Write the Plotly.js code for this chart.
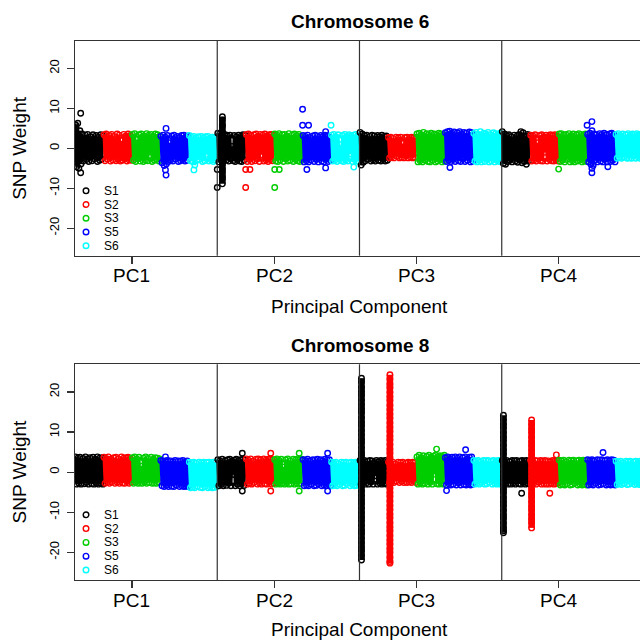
<!DOCTYPE html>
<html>
<head>
<meta charset="utf-8">
<script src="https://cdn.plot.ly/plotly-3.0.1.min.js"></script>
<style>html,body{margin:0;padding:0;background:#fff;}#chart{width:640px;height:641px;}</style>
</head>
<body>
<div id="chart"></div>
<script>
// ---------- categories ----------
const SAMPLES = ['S1', 'S2', 'S3', 'S5', 'S6'];
const PCS = ['PC1', 'PC2', 'PC3', 'PC4'];
const COLORS = ['#000000', '#FF0000', '#00CD00', '#0000FF', '#00FFFF'];
const CHROMS = ['Chromosome 6', 'Chromosome 8'];

// ---------- Chromosome 6: SNP weights in SNP order, per sample, [PC1, PC2, PC3, PC4] ----------
const chr6_S1 = [
  [5.9,-4.6,6.3,-5.0,4.4,-3.9,3.6,-3.2,1.1,3.3,-2.8,3.5,-3.3,0.4,2.9,-3.1,3.4,-2.6,-0.7,3.2,-3.3,2.8,-3.0,3.4,-2.7,3.1],
  [3.8,-3.4,3.6,-3.0,3.2,-3.3,1.0,3.4,-2.9,3.1,-3.2,3.3,-2.6,0.5,-3.1,3.2,-3.3,2.9,-2.8,3.3,-3.2,3.0,-3.3,3.4,-2.9,3.2],
  [4.0,-4.2,3.6,-3.5,3.2,-3.1,3.3,-2.7,0.6,3.0,-3.2,3.3,-2.9,3.1,-3.2,-0.8,3.2,-3.0,2.9,-3.2,3.3,-2.8,3.0,-3.2,3.1,-3.0],
  [4.2,-3.8,3.6,-4.0,3.2,-3.3,3.4,-3.0,2.9,-3.4,0.7,3.3,-3.2,3.0,-3.5,3.4,-2.9,4.2,-3.6,3.9,-3.3,3.1,-4.0,3.5,-3.2,3.3]
];
const chr6_S2 = [
  [3.4,-3.1,3.6,-2.7,0.8,3.2,-3.2,3.5,-2.9,3.0,-1.2,-3.1,3.6,-2.8,3.3,-3.2,1.9,-3.0,3.5,-2.6,3.1,-3.2,3.6,-2.9,3.2,-3.0],
  [3.5,-3.3,3.6,-2.8,3.2,-3.3,0.9,3.4,-3.1,3.6,-2.7,3.0,-3.3,3.5,-1.6,3.3,-3.2,3.6,-2.9,3.1,-3.3,3.4,-2.8,3.5,-3.1,3.3],
  [2.7,-2.4,2.8,-2.2,2.5,-2.4,0.5,2.8,-2.0,2.6,-2.4,2.8,-2.3,1.2,-2.4,2.7,-1.9,2.8,-2.4,2.5,-2.2,2.8,-2.4,2.6,-2.3,2.7],
  [3.3,-3.2,3.1,-2.9,3.4,-3.2,1.4,-2.7,3.2,-3.1,3.4,-3.2,2.9,-1.0,3.3,-3.2,3.0,-2.8,3.4,-3.1,3.2,-3.2,3.4,-2.9,3.1,-3.2]
];
const chr6_S3 = [
  [3.5,-3.0,3.7,-3.3,2.2,-2.6,3.4,-3.2,3.6,0.3,-3.3,3.1,-2.9,3.7,-3.1,3.3,-1.8,3.5,-3.3,2.9,-3.0,3.6,-2.8,3.4,-3.2,3.0],
  [3.6,-3.2,3.3,-3.3,3.7,-2.9,1.3,3.4,-3.3,3.5,-2.6,3.1,-3.2,3.7,-3.0,0.4,3.3,-3.3,3.6,-2.8,3.2,-3.1,3.5,-3.3,3.0,-2.9],
  [3.6,-3.4,3.8,-3.1,3.4,-3.4,4.0,-2.9,1.0,3.7,-3.3,3.5,-3.4,3.8,-3.0,-0.6,3.6,-3.4,3.3,-3.2,3.8,-2.8,3.6,-3.4,3.4,-3.1],
  [3.6,-3.3,3.7,-3.0,3.3,-3.4,3.5,-2.8,0.9,3.7,-3.4,3.2,-3.1,3.6,-3.4,-0.5,3.4,-3.2,3.7,-2.9,3.5,-3.4,3.3,-3.1,3.6,-3.3]
];
const chr6_S5 = [
  [3.0,-3.6,3.3,-4.3,2.8,-3.9,3.2,-3.3,1.4,-2.9,3.1,-3.2,3.3,-2.7,0.2,3.0,-3.3,2.7,-3.1,3.2,-2.8,3.3,-3.2,2.9,-3.0,3.1],
  [3.2,-3.4,3.0,-3.1,3.3,-3.4,2.7,-2.9,0.8,3.1,-3.3,3.3,-2.8,3.0,-3.4,-1.1,3.2,-3.2,2.9,-3.4,3.3,-2.7,3.1,-3.3,2.8,-3.0],
  [3.9,-3.3,4.2,-3.0,4.3,-3.3,3.8,-2.8,4.1,-3.3,1.5,3.9,-3.1,4.2,-3.3,3.7,-2.6,4.0,-3.3,3.8,-3.0,-0.9,4.1,-3.4,3.9,-3.2],
  [3.5,-3.4,3.8,-4.0,4.4,-4.3,3.6,-3.0,3.3,-3.4,1.2,3.7,-3.2,3.5,-3.4,3.8,-2.7,3.4,-3.4,0.1,3.6,-3.3,3.8,-3.0,3.5,-3.4]
];
const chr6_S6 = [
  [3.2,-3.1,2.8,-3.3,3.0,-4.2,2.6,-3.0,2.9,-2.8,0.6,3.0,-3.3,2.7,-3.1,2.9,-1.5,3.0,-3.2,2.5,-2.9,2.8,-3.3,2.6,-3.0,2.9],
  [3.3,-3.2,3.5,-3.0,2.9,-3.3,3.4,-2.7,0.9,-3.1,3.2,-3.3,3.5,-2.9,3.0,-3.2,3.4,-1.4,3.1,-3.3,3.3,-2.8,3.5,-3.2,3.0,-3.3],
  [3.7,-3.2,4.0,-3.4,3.5,-3.0,4.2,-3.4,0.7,3.8,-3.3,3.6,-2.8,4.0,-3.4,3.4,-3.1,-1.3,3.9,-3.4,3.7,-3.0,3.5,-3.3,3.8,-3.2],
  [3.5,-2.5,3.7,-2.3,3.2,-2.5,3.6,-2.1,0.8,3.4,-2.5,3.7,-2.4,3.3,-2.5,3.6,-1.7,3.5,-2.5,3.7,-2.2,3.4,-2.5,3.6,-2.4,3.5]
];
// dense high-weight region (S1, PC2) on chromosome 6
const chr6_region_S1_PC2 = [7.9,7.1,6.0,5.4,4.3,3.6,2.2,1.4,0.1,-1.0,-1.9,-3.2,-4.0,-5.1,-5.9,-7.0,-7.7,-8.9];
// isolated SNPs on chromosome 6 (pos = place within the sample's block of SNPs)
const chr6_out_sample = ['S1','S1','S5','S5','S5','S6','S1','S1','S2','S2','S2','S3','S3','S3','S5','S5','S5','S5','S5','S5','S6','S6','S5','S3','S5','S5','S5','S5','S5'];
const chr6_out_pc     = ['PC1','PC1','PC1','PC1','PC1','PC1','PC2','PC2','PC2','PC2','PC2','PC2','PC2','PC2','PC2','PC2','PC2','PC2','PC2','PC2','PC2','PC2','PC3','PC4','PC4','PC4','PC4','PC4','PC4'];
const chr6_out_pos    = [0.20,0.20,0.20,0.18,0.20,0.18,0.00,0.00,0.00,0.00,0.15,0.02,0.02,0.18,0.00,0.00,0.21,0.15,0.81,0.81,0.00,0.80,0.18,0.00,0.17,0.00,0.17,0.17,0.73];
const chr6_out_y      = [8.8,-6.1,5.0,-5.4,-6.7,-5.4,-5.3,-9.8,-5.3,-9.8,-5.3,-5.3,-9.8,-5.3,9.8,5.8,5.8,-5.3,-4.9,4.2,5.8,-4.7,-4.8,-5.2,6.7,5.8,-6.1,-5.0,-4.6];

// ---------- Chromosome 8 ----------
const chr8_S1 = [
  [3.8,-3.0,3.5,-2.8,3.7,-3.0,1.2,3.4,-2.9,3.8,-2.6,3.3,-3.0,3.6,-0.4,-2.9,3.7,-3.0,3.2,-2.7,3.8,-3.0,3.5,-2.8,3.6,-3.0],
  [3.1,-3.4,2.8,-3.1,3.2,-3.4,1.0,2.9,-3.3,3.1,-2.8,3.2,-3.4,2.7,-0.6,3.0,-3.4,3.2,-3.0,2.9,-3.4,3.1,-2.9,3.2,-3.3,3.0],
  [2.9,-3.0,2.6,-2.8,2.9,-3.0,0.7,2.7,-3.0,2.9,-2.5,2.8,-3.0,2.4,-0.9,2.9,-3.0,2.6,-2.7,2.9,-3.0,2.7,-2.8,2.9,-3.0,2.5],
  [2.9,-3.0,2.7,-2.8,2.9,-3.0,0.8,2.6,-3.0,2.9,-2.7,2.8,-3.0,2.9,-0.4,-2.9,2.7,-3.0,2.9,-2.6,2.8,-3.0,2.9,-2.8,2.7,-3.0]
];
const chr8_S2 = [
  [3.7,-2.8,3.4,-2.6,3.8,-2.8,3.2,-2.4,0.9,3.6,-2.8,3.7,-2.5,3.3,-2.8,-1.0,3.8,-2.7,3.5,-2.8,3.6,-2.3,3.7,-2.8,3.4,-2.6],
  [3.3,-3.0,3.0,-2.8,3.3,-3.0,2.7,-2.6,0.5,3.2,-3.0,3.3,-2.7,3.1,-3.0,-1.2,3.3,-2.9,3.0,-3.0,3.2,-2.5,3.3,-3.0,3.1,-2.8],
  [2.5,-2.6,2.3,-2.4,2.5,-2.6,2.0,-2.2,0.4,2.5,-2.6,2.4,-2.3,2.5,-2.6,-0.8,2.2,-2.6,2.5,-2.4,2.3,-2.6,2.5,-2.1,2.4,-2.6],
  [2.9,-3.0,2.6,-2.7,2.9,-3.0,2.8,-2.5,0.3,2.9,-3.0,2.7,-2.9,2.9,-3.0,-1.0,2.8,-3.0,2.6,-2.8,2.9,-3.0,2.7,-2.9,2.9,-2.8]
];
const chr8_S3 = [
  [3.6,-2.8,3.8,-2.5,3.3,-2.8,3.7,-2.7,1.5,-2.8,3.5,-2.4,3.8,-2.8,3.4,-2.6,0.2,3.7,-2.8,3.2,-2.7,3.6,-2.8,3.5,-2.5,3.3],
  [3.1,-3.0,3.3,-2.7,2.9,-3.0,3.2,-2.8,1.3,-3.0,3.1,-2.6,3.3,-3.0,2.8,-2.9,-0.3,3.2,-3.0,3.0,-2.7,3.3,-3.0,3.1,-2.8,3.2],
  [3.8,-3.0,4.2,-2.7,3.6,-3.0,4.1,-2.8,1.2,3.9,-3.0,4.2,-2.6,3.7,-3.0,4.0,-0.5,4.2,-2.9,3.8,-3.0,4.1,-2.7,3.9,-3.0,4.2],
  [3.0,-3.2,2.8,-3.0,3.0,-3.2,2.6,-2.9,1.0,3.0,-3.2,2.9,-3.1,3.0,-2.7,-0.6,2.8,-3.2,3.0,-3.0,2.7,-3.2,3.0,-3.1,2.9,-3.2]
];
const chr8_S5 = [
  [2.9,-3.4,2.7,-3.6,2.8,-3.3,2.9,-3.6,0.6,2.8,-3.5,2.6,-3.6,2.9,-3.2,-1.1,2.8,-3.6,2.7,-3.4,2.9,-3.6,2.5,-3.5,2.8,-3.6],
  [3.1,-3.4,2.9,-3.2,3.2,-3.4,2.7,-3.0,0.8,3.1,-3.4,3.0,-3.3,3.2,-2.9,-1.0,3.1,-3.4,2.8,-3.2,3.2,-3.4,3.0,-3.1,3.1,-3.4],
  [3.6,-3.2,3.8,-2.9,3.4,-3.2,3.7,-3.0,0.9,3.8,-3.2,3.5,-2.7,3.8,-3.2,-0.7,3.6,-3.1,3.8,-3.2,3.3,-2.9,3.7,-3.2,3.8,-3.0],
  [3.1,-3.2,2.9,-3.0,3.1,-3.2,2.7,-2.8,0.5,3.1,-3.2,3.0,-3.1,3.1,-2.9,-1.2,2.9,-3.2,3.1,-3.0,2.8,-3.2,3.1,-3.1,3.0,-3.2]
];
const chr8_S6 = [
  [2.5,-3.9,2.4,-3.7,2.5,-3.9,2.2,-3.5,0.3,2.5,-3.8,2.3,-3.9,2.5,-3.6,-1.4,2.4,-3.9,2.5,-3.7,2.1,-3.9,2.5,-3.8,2.4,-3.6],
  [2.5,-3.4,2.3,-3.2,2.5,-3.4,2.1,-3.0,0.4,2.5,-3.4,2.4,-3.3,2.5,-2.8,-1.2,2.3,-3.4,2.5,-3.1,2.2,-3.4,2.5,-3.3,2.4,-3.2],
  [2.9,-3.0,2.7,-2.8,2.9,-3.0,2.5,-2.6,0.6,2.9,-3.0,2.8,-2.9,2.9,-2.5,-1.1,2.7,-3.0,2.9,-2.8,2.6,-3.0,2.9,-2.9,2.8,-3.0],
  [2.7,-3.1,2.5,-2.9,2.7,-3.1,2.3,-2.8,0.7,2.7,-3.1,2.6,-3.0,2.7,-2.6,-0.9,2.5,-3.1,2.7,-2.9,2.4,-3.1,2.7,-3.0,2.6,-3.1]
];
// dense high-weight regions on chromosome 8
const chr8_region_S1_PC3 = [23.4,22.5,21.2,20.1,19.2,18.0,16.9,15.8,14.9,13.6,12.5,11.6,10.4,9.3,8.2,7.3,6.1,5.0,4.2,2.9,1.8,0.6,-0.3,-1.5,-2.6,-3.5,-4.7,-5.8,-6.9,-7.8,-9.0,-10.1,-11.2,-12.1,-13.3,-14.4,-15.3,-16.5,-17.6,-18.7,-19.6,-20.8,-21.9];
const chr8_region_S2_PC3 = [24.3,23.2,22.0,21.1,19.9,18.8,17.9,16.7,15.6,14.5,13.5,12.3,11.2,10.2,9.0,8.1,6.9,5.7,4.8,3.6,2.5,1.5,0.3,-0.8,-1.7,-2.9,-4.0,-5.1,-6.0,-7.2,-8.3,-9.3,-10.5,-11.4,-12.6,-13.7,-14.6,-15.8,-16.9,-17.9,-19.1,-20.0,-21.2,-22.3,-22.7];
const chr8_region_S1_PC4 = [14.2,13.1,12.0,11.1,9.9,8.8,7.9,6.7,5.6,4.6,3.4,2.3,1.4,0.2,-0.9,-1.9,-3.1,-4.2,-5.1,-6.3,-7.4,-8.3,-9.5,-10.6,-11.5,-12.7,-13.8,-14.6,-15.1];
const chr8_region_S2_PC4 = [13.0,11.9,10.8,9.9,8.7,7.6,6.6,5.5,4.4,3.4,2.2,1.1,0.1,-1.0,-2.1,-3.0,-4.2,-5.3,-6.2,-7.4,-8.5,-9.4,-10.6,-11.7,-12.6,-13.9];
const chr8_out_sample = ['S1','S1','S2','S2','S3','S3','S5','S5','S5','S3','S5','S5','S1','S2','S2','S5'];
const chr8_out_pc     = ['PC2','PC2','PC2','PC2','PC2','PC2','PC2','PC2','PC1','PC3','PC3','PC3','PC4','PC4','PC4','PC4'];
const chr8_out_pos    = [0.88,0.88,0.88,0.88,0.88,0.88,0.88,0.88,0.18,0.71,0.73,0.06,0.70,0.69,0.92,0.56];
const chr8_out_y      = [4.7,-4.7,4.7,-4.7,4.7,-4.7,4.7,-4.7,3.8,5.75,5.6,-4.6,-5.25,-5.25,4.3,4.9];

// ---------- assemble ----------
const FONT = 'Liberation Sans, Arial, Helvetica, sans-serif';
const chromData = [
  { body: [chr6_S1, chr6_S2, chr6_S3, chr6_S5, chr6_S6],
    regions: [{ sample: 'S1', pc: 'PC2', at: 0.18, y: chr6_region_S1_PC2 }],
    out: { sample: chr6_out_sample, pc: chr6_out_pc, pos: chr6_out_pos, y: chr6_out_y } },
  { body: [chr8_S1, chr8_S2, chr8_S3, chr8_S5, chr8_S6],
    regions: [{ sample: 'S1', pc: 'PC3', at: 0.07, y: chr8_region_S1_PC3 },
              { sample: 'S2', pc: 'PC3', at: 0.07, y: chr8_region_S2_PC3 },
              { sample: 'S1', pc: 'PC4', at: 0.06, y: chr8_region_S1_PC4 },
              { sample: 'S2', pc: 'PC4', at: 0.05, y: chr8_region_S2_PC4 }],
    out: { sample: chr8_out_sample, pc: chr8_out_pc, pos: chr8_out_pos, y: chr8_out_y } }
];

const MS = 5.5, MLW = 1.4;
const traces = [];
function addPoints(xa, ya, x, y, color, lineWidth) {
  if (lineWidth) {
    traces.push({ type: 'scatter', mode: 'lines', xaxis: xa, yaxis: ya, x, y,
      line: { color, width: lineWidth, simplify: false }, showlegend: false, hoverinfo: 'skip' });
  }
  traces.push({ type: 'scatter', mode: 'markers', xaxis: xa, yaxis: ya, x, y,
    marker: { symbol: 'circle-open', size: MS, color, line: { width: MLW, color } },
    showlegend: false, hoverinfo: 'skip' });
}
chromData.forEach((cd, c) => {
  const xa = c === 0 ? 'x' : 'x2', ya = c === 0 ? 'y' : 'y2';
  PCS.forEach((pc, p) => {
    SAMPLES.forEach((s, k) => {
      const seg = p * SAMPLES.length + k;
      const vals = cd.body[k][p];
      addPoints(xa, ya, vals.map((v, i) => seg + (i + 0.5) / vals.length), vals, COLORS[k], 3);
      cd.regions.filter(r => r.sample === s && r.pc === pc).forEach(r => {
        addPoints(xa, ya, r.y.map(() => seg + r.at), r.y, COLORS[k], 6.5);
      });
      const ox = [], oy = [];
      cd.out.y.forEach((v, i) => {
        if (cd.out.sample[i] === s && cd.out.pc[i] === pc) { ox.push(seg + cd.out.pos[i]); oy.push(v); }
      });
      if (ox.length) addPoints(xa, ya, ox, oy, COLORS[k], 0);
    });
  });
});

const NSEG = PCS.length * SAMPLES.length;
const xTickVals = PCS.map((_, p) => p * SAMPLES.length + 2);
const yTickVals = [-20, -10, 0, 10, 20];
const yTickText = yTickVals.map(v => String(v));

function xAxis(anchor) {
  return { anchor, domain: [0, 1], range: [0, NSEG - 0.14], showgrid: false, zeroline: false,
    showline: true, mirror: true, linecolor: '#333', linewidth: 1.2,
    ticks: 'outside', ticklen: 7, tickwidth: 1.2, tickcolor: '#333',
    tickvals: xTickVals, ticktext: PCS, showticklabels: false };
}
function yAxis(anchor, domain) {
  return { anchor, domain, range: [-26.9, 26.9], showgrid: false, zeroline: false,
    showline: true, mirror: false, linecolor: '#333', linewidth: 1.2,
    ticks: 'outside', ticklen: 7, tickwidth: 1.2, tickcolor: '#333',
    tickvals: yTickVals, ticktext: yTickText, tickangle: -90, ticklabelstandoff: 3,
    tickfont: { family: FONT, size: 13, color: '#000' } };
}

const shapes = [], annotations = [];
[['x', 'y'], ['x2', 'y2']].forEach(([xr, yr], c) => {
  for (let p = 1; p < PCS.length; p++) {
    shapes.push({ type: 'line', xref: xr, yref: yr + ' domain', x0: p * SAMPLES.length, x1: p * SAMPLES.length,
      y0: 0, y1: 1, line: { color: '#333', width: 1.2 } });
  }
  // x tick labels (PC names) under their tick marks
  PCS.forEach((name, p) => {
    annotations.push({ xref: xr, yref: yr + ' domain', x: xTickVals[p], y: -0.093, xanchor: 'center', yanchor: 'middle',
      text: name, showarrow: false, font: { family: FONT, size: 19, color: '#000' } });
  });
  // legend
  SAMPLES.forEach((s, k) => {
    const yy = 0.3023 - k * 0.064;
    shapes.push({ type: 'circle', xref: xr + ' domain', yref: yr + ' domain', xsizemode: 'pixel', ysizemode: 'pixel',
      xanchor: 0.0195, yanchor: yy, x0: -2.8, x1: 2.8, y0: -2.8, y1: 2.8,
      line: { color: COLORS[k], width: 1.4 } });
    annotations.push({ xref: xr + ' domain', yref: yr + ' domain', x: 0.047, y: yy, xanchor: 'left', yanchor: 'middle',
      text: s, showarrow: false, font: { family: FONT, size: 12, color: '#000' } });
  });
  const off = c === 0 ? 0 : 323.6;
  const py = v => (580 - v - off) / 539;
  annotations.push({ xref: 'paper', yref: 'paper', x: 0.5044, y: py(21.7), xanchor: 'center', yanchor: 'middle',
    text: '<b>' + CHROMS[c] + '</b>', showarrow: false, font: { family: FONT, size: 19, color: '#000' } });
  annotations.push({ xref: 'paper', yref: 'paper', x: 0.5044, y: py(306), xanchor: 'center', yanchor: 'middle',
    text: 'Principal Component', showarrow: false, font: { family: FONT, size: 19, color: '#000' } });
  annotations.push({ xref: 'paper', yref: 'paper', x: (19.5 - 75) / 565, y: py(148.3), xanchor: 'center', yanchor: 'middle',
    textangle: -90, text: 'SNP Weight', showarrow: false, font: { family: FONT, size: 19, color: '#000' } });
});

const layout = {
  width: 640, height: 641,
  margin: { l: 75, r: 0, t: 41, b: 61 },
  paper_bgcolor: '#fff', plot_bgcolor: '#fff',
  showlegend: false, hovermode: false,
  xaxis: xAxis('y'), yaxis: yAxis('x', [0.6017, 1]),
  xaxis2: xAxis('y2'), yaxis2: yAxis('x2', [0, 0.4002]),
  shapes, annotations
};

Plotly.newPlot('chart', traces, layout, { staticPlot: true, displayModeBar: false });
</script>
</body>
</html>
